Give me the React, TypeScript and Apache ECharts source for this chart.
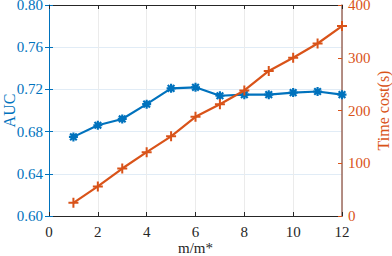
import React, { useEffect, useRef } from "react";
import * as echarts from "echarts";

const xValues = [1, 2, 3, 4, 5, 6, 7, 8, 9, 10, 11, 12];
const aucValues = [0.675, 0.686, 0.692, 0.706, 0.721, 0.722, 0.714, 0.715, 0.715, 0.717, 0.718, 0.715];
const timeValues = [25, 56, 90, 121, 151, 188, 212, 238, 275, 300, 327, 360];

const BLUE = "#0072BD";
const ORANGE = "#D95319";
const FONT = "Liberation Serif, serif";

const plusPath = "path://M4,0h2v4h4v2h-4v4h-2v-4h-4v-2h4z";
const starPath =
  "path://M3.8,0h2.4v10h-2.4z M0,3.8h10v2.4h-10z M2.15,0.45L9.55,7.85L7.85,9.55L0.45,2.15z M9.55,2.15L2.15,9.55L0.45,7.85L7.85,0.45z";

export default function App() {
  const ref = useRef<HTMLDivElement>(null);
  useEffect(() => {
    document.body.style.margin = "0";
    if (!ref.current) return;
    const chart = echarts.init(ref.current, undefined, { renderer: "svg" });
    const labelBase = { fontFamily: FONT, fontSize: 15, fontWeight: "normal" as const };
    const nameBase = { fontFamily: FONT, fontSize: 16, fontWeight: "normal" as const };
    chart.setOption({
      animation: false,
      textStyle: { fontFamily: FONT, fontWeight: "normal" },
      grid: { left: 49, right: 50, top: 5, height: 211, containLabel: false, outerBoundsMode: "none" },
      xAxis: [
        {
          type: "value",
          min: 0,
          max: 12,
          interval: 2,
          position: "bottom",
          name: "m/m*",
          nameLocation: "middle",
          nameGap: 24,
          nameMoveOverlap: false,
          nameTextStyle: { ...nameBase, fontSize: 15, color: "#262626" },
          axisLine: { onZero: false, lineStyle: { color: "#262626", width: 1 } },
          axisTick: { inside: true, length: 4, lineStyle: { color: "#262626" } },
          axisLabel: { ...labelBase, color: "#262626", margin: 8 },
          splitLine: { show: true, lineStyle: { color: "#ebebeb", width: 1 } },
        },
        {
          type: "value",
          min: 0,
          max: 12,
          interval: 2,
          position: "top",
          axisLine: { onZero: false, lineStyle: { color: "#262626", width: 1 } },
          axisTick: { inside: true, length: 4, lineStyle: { color: "#262626" } },
          axisLabel: { show: false },
          splitLine: { show: false },
        },
      ],
      yAxis: [
        {
          type: "value",
          min: 0.6,
          max: 0.8,
          interval: 0.04,
          position: "left",
          name: "AUC",
          nameLocation: "middle",
          nameGap: 32,
          nameMoveOverlap: false,
          nameRotate: 90,
          nameTextStyle: { ...nameBase, color: BLUE },
          axisLine: { show: true, onZero: false, lineStyle: { color: BLUE, width: 1 } },
          axisTick: { show: true, inside: true, length: 4, lineStyle: { color: BLUE } },
          axisLabel: { ...labelBase, color: BLUE, margin: 6, formatter: (v: number) => v.toFixed(2) },
          splitLine: { show: true, lineStyle: { color: "#e1ecf6", width: 1 } },
        },
        {
          type: "value",
          min: 0,
          max: 400,
          interval: 100,
          position: "right",
          name: "Time cost(s)",
          nameLocation: "middle",
          nameGap: 33,
          nameMoveOverlap: false,
          nameRotate: 90,
          nameTextStyle: { ...nameBase, color: ORANGE },
          axisLine: { show: true, onZero: false, lineStyle: { color: "#9c6a5c", width: 1.5 } },
          axisTick: { show: true, inside: true, length: 4, lineStyle: { color: ORANGE } },
          axisLabel: { ...labelBase, color: ORANGE, margin: 6 },
          splitLine: { show: false },
        },
        {
          type: "value",
          min: 0.6,
          max: 0.8,
          interval: 0.04,
          position: "right",
          axisLine: { show: false },
          axisTick: { show: true, inside: true, length: 4, lineStyle: { color: BLUE } },
          axisLabel: { show: false },
          splitLine: { show: false },
        },
      ],
      series: [
        {
          type: "line",
          xAxisIndex: 0,
          yAxisIndex: 0,
          data: xValues.map((x, i) => [x, aucValues[i]]),
          lineStyle: { color: BLUE, width: 2.2 },
          itemStyle: { color: BLUE },
          symbol: starPath,
          symbolSize: 9,
          showSymbol: true,
          z: 3,
        },
        {
          type: "line",
          xAxisIndex: 0,
          yAxisIndex: 1,
          data: xValues.map((x, i) => [x, timeValues[i]]),
          lineStyle: { color: ORANGE, width: 2.2 },
          itemStyle: { color: ORANGE },
          symbol: plusPath,
          symbolSize: 10,
          showSymbol: true,
          z: 4,
        },
      ],
    });
    return () => chart.dispose();
  }, []);
  return <div ref={ref} style={{ width: 392, height: 256 }} />;
}
